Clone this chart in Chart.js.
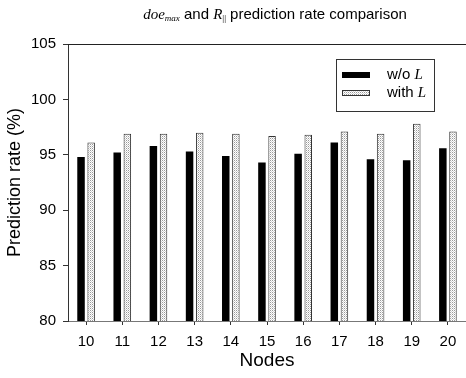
<!DOCTYPE html>
<html>
<head>
<meta charset="utf-8">
<script src="https://cdn.jsdelivr.net/npm/chart.js@4/dist/chart.umd.min.js"></script>
<style>
  html, body { margin: 0; padding: 0; background: #fff; }
  #wrap { width: 466px; height: 378px; }
</style>
</head>
<body>
<div id="wrap"><canvas id="chartBar" width="466" height="378"></canvas></div>
<script>
// Prediction rate per node count
const nodes = ['10', '11', '12', '13', '14', '15', '16', '17', '18', '19', '20'];
const withoutL = [94.8, 95.2, 95.8, 95.3, 94.9, 94.3, 95.1, 96.1, 94.6, 94.5, 95.6];
const withL = [96.1, 96.9, 96.9, 97.0, 96.9, 96.7, 96.8, 97.1, 96.9, 97.8, 97.1];
const yTicks = [80, 85, 90, 95, 100, 105];

const FONT = '"Liberation Sans", Arial, sans-serif';
const MATH = '"Liberation Serif", "DejaVu Serif", serif';

// stippled grey fill for the "with L" bars
function dotPattern() {
    const c = document.createElement('canvas');
    c.width = 2; c.height = 2;
    const g = c.getContext('2d');
    g.fillStyle = '#ffffff';
    g.fillRect(0, 0, 2, 2);
    g.fillStyle = '#9a9a9a';
    g.fillRect(0, 0, 1, 1);
    g.fillStyle = '#d4d4d4';
    g.fillRect(1, 1, 1, 1);
    return c.getContext('2d').createPattern(c, 'repeat');
}
const dots = dotPattern();

// draw a run of [text, font, dy] pieces starting at x
function drawRuns(ctx, runs, x, y) {
    runs.forEach(r => {
        ctx.font = r[1];
        ctx.fillText(r[0], x, y + (r[2] || 0));
        x += ctx.measureText(r[0]).width;
    });
    return x;
}
function runsWidth(ctx, runs) {
    let w = 0;
    runs.forEach(r => { ctx.font = r[1]; w += ctx.measureText(r[0]).width; });
    return w;
}

const decorations = {
    id: 'decorations',
    afterDraw(chart) {
        const ctx = chart.ctx;
        const area = chart.chartArea;
        ctx.save();

        // top frame line at 105
        ctx.strokeStyle = '#222';
        ctx.lineWidth = 1;
        ctx.beginPath();
        ctx.moveTo(area.left, area.top + 0.5);
        ctx.lineTo(area.right, area.top + 0.5);
        ctx.stroke();

        // title with math parts
        ctx.fillStyle = '#000';
        ctx.textBaseline = 'middle';
        const titleRuns = [
            ['doe', 'italic 15px ' + MATH, 0],
            ['max', 'italic 9px ' + MATH, 4],
            [' and ', '15px ' + FONT, 0],
            ['R', 'italic 15px ' + MATH, 0],
            ['||', '9px ' + MATH, 4],
            [' prediction rate comparison', '15px ' + FONT, 0]
        ];
        const tw = runsWidth(ctx, titleRuns);
        const cx = (area.left + area.right) / 2 + 8;
        drawRuns(ctx, titleRuns, cx - tw / 2, 15);

        // legend box
        const bx = 336, by = 59, bw = 98, bh = 52;
        ctx.fillStyle = '#fff';
        ctx.fillRect(bx, by, bw, bh);
        ctx.strokeStyle = '#333';
        ctx.strokeRect(bx + 0.5, by + 0.5, bw, bh);
        chart.data.datasets.forEach((ds, i) => {
            const ry = 75 + i * 18;
            ctx.fillStyle = ds.backgroundColor;
            ctx.fillRect(342, ry - 3, 28, 6);
            ctx.strokeStyle = ds.borderColor;
            ctx.strokeRect(342.5, ry - 2.5, 27, 5);
            ctx.fillStyle = '#000';
            drawRuns(ctx, [[ds.label + ' ', '15px ' + FONT, 0], ['L', 'italic 15px ' + MATH, 0]], 387, ry);
        });
        ctx.restore();
    }
};

new Chart(document.getElementById('chartBar').getContext('2d'), {
    type: 'bar',
    data: {
        labels: nodes,
        datasets: [
            {
                label: 'w/o',
                data: withoutL,
                backgroundColor: '#000000',
                borderColor: '#000000',
                borderWidth: 0
            },
            {
                label: 'with',
                data: withL,
                backgroundColor: dots,
                borderColor: '#333333',
                borderWidth: 1,
                borderSkipped: 'bottom'
            }
        ]
    },
    options: {
        responsive: false,
        animation: false,
        categoryPercentage: 0.56,
        barPercentage: 0.74,
        layout: { padding: { top: 44, right: 0, left: 0, bottom: 0 } },
        plugins: {
            legend: { display: false },
            title: { display: false },
            tooltip: { enabled: false }
        },
        scales: {
            x: {
                afterFit(scale) { scale.height = 57; },
                grid: { offset: false, drawOnChartArea: false, tickLength: 4, color: '#333' },
                border: { color: '#777', width: 1 },
                ticks: { color: '#000', font: { family: FONT, size: 15 }, padding: 8 },
                title: { display: true, text: 'Nodes', color: '#000', font: { family: FONT, size: 19 }, padding: { top: 0, bottom: 6 } }
            },
            y: {
                min: 80,
                max: 105,
                afterFit(scale) { scale.width = 68; },
                afterBuildTicks(scale) { scale.ticks = yTicks.map(v => ({ value: v })); },
                grid: { drawOnChartArea: false, tickLength: 5, color: '#333' },
                border: { color: '#333', width: 1 },
                ticks: { color: '#000', font: { family: FONT, size: 15 }, padding: 7 },
                title: { display: true, text: 'Prediction rate (%)', color: '#000', font: { family: FONT, size: 18 }, padding: { bottom: 0 } }
            }
        }
    },
    plugins: [decorations]
});
</script>
</body>
</html>
